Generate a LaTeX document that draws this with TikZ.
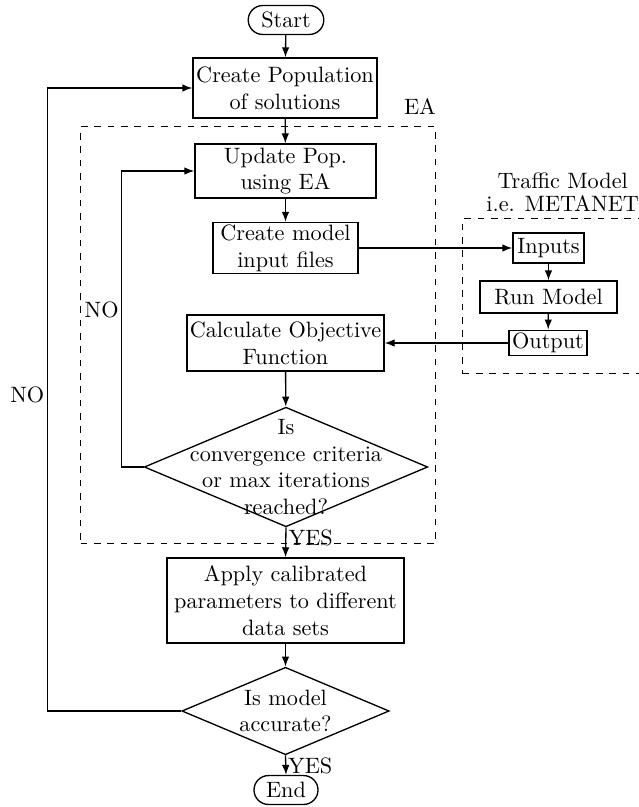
\documentclass[tikz,border=0pt]{standalone}
\usetikzlibrary{positioning,shapes,arrows,arrows.meta,calc}
\tikzset{
    BlockTerm/.style={draw, semithick, rectangle, rounded corners=6.5pt, minimum height=13pt, inner sep=1pt},
    BlockStep/.style={draw, semithick, rectangle, align=center, inner sep=1pt},
    Decision/.style={draw, semithick, diamond, align=center, aspect=2.37, inner sep=1pt},
    Group/.style={draw, dashed, semithick, rectangle, anchor=north west, inner sep=0pt},
    Flow/.style={draw, semithick, -{Latex[length=4.5pt,width=3.4pt]}},
    Nom/.style={inner sep=1pt}
    }

\begin{document}
\begin{tikzpicture}[x=0.45pt, y=-0.45pt]
\useasboundingbox (0,0) rectangle (639,807);

% main column
\node[BlockTerm, minimum width=34pt] (Start) at (286,20) {Start};
\node[BlockStep, minimum width=82.8pt, minimum height=27pt] (Pop) at (285,88) {Create Population\\of solutions};
\node[Group, minimum width=159.75pt, minimum height=187.65pt] (EA) at (80,126) {};
\node[Nom, anchor=base east, inner sep=0pt] (EAnom) at ($(EA.north east)+(0,-11)$) {EA};
\node[BlockStep, minimum width=81.5pt, minimum height=24.3pt] (Update) at (285.5,171) {Update Pop.\\using EA};
\node[BlockStep, minimum width=65.3pt, minimum height=23pt] (Files) at (285.5,248) {Create model\\input files};
\node[BlockStep, minimum width=88.7pt, minimum height=25.2pt] (Obj) at (285.5,343) {Calculate Objective\\Function};
\node[Decision, inner sep=-9pt] (Conv) at (286,467) {Is\\convergence criteria\\or max iterations\\reached?};
\node[BlockStep, minimum width=106.7pt, minimum height=38.3pt] (Apply) at (285.5,600.5) {Apply calibrated\\parameters to different\\data sets};
\node[Decision] (Acc) at (285.5,711) {Is model\\accurate?};
\node[BlockTerm, minimum width=28.8pt] (End) at (286,790) {End};

% traffic model
\node[Group, minimum width=90pt, minimum height=69.75pt] (TM) at (462,218) {};
\node[Nom, align=center, anchor=south] (TMnom) at ($(TM.north)+(0,-4)$) {Traffic Model\\[-2pt]i.e. METANET};
\node[BlockStep, minimum width=32pt, minimum height=13.5pt] (Inputs) at (548.5,248) {Inputs};
\node[BlockStep, minimum width=61.7pt, minimum height=14.4pt] (Run) at (548.5,297) {Run Model};
\node[BlockStep, minimum width=35pt, minimum height=11.5pt] (Output) at (548,343) {Output};

% connectors
\draw[Flow] (Start) -- (Pop);
\draw[Flow] (Pop) -- (Update);
\draw[Flow] (Update) -- (Files);
\draw[Flow] (Files) -- (Inputs);
\draw[Flow] (Inputs) -- (Run);
\draw[Flow] (Run) -- (Output);
\draw[Flow] (Output) -- (Obj);
\draw[Flow] (Obj) -- (Conv);
\draw[Flow] (Conv.south) -- (Apply.north);
\node[Nom, anchor=north west] (Yes1) at (Conv.south) {YES};
\draw[Flow] (Conv.west) -- ++(-22,0) |- node[Nom, pos=0.265, left] (No1) {NO} (Update.west);
\draw[Flow] (Apply) -- (Acc);
\draw[Flow] (Acc.south) -- (End.north);
\node[Nom, anchor=north west] (Yes2) at (Acc.south) {YES};
\draw[Flow] (Acc.west) -- ++(-134,0) |- node[Nom, pos=0.254, left] (No2) {NO} (Pop.west);

\end{tikzpicture}
\end{document}
